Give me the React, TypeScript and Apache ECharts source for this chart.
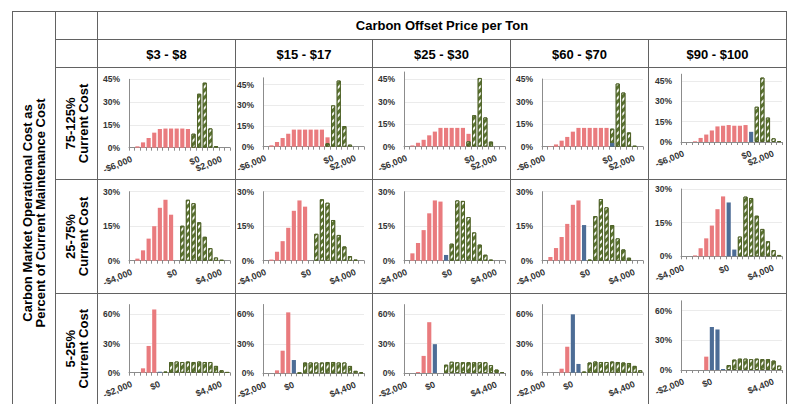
import React, { useEffect, useRef } from 'react';
import * as echarts from 'echarts';

// ---------- text ----------
const mainTitle = 'Carbon Offset Price per Ton';
const sideTitle = 'Carbon Market Operational Cost as\nPercent of Current Maintenance Cost';
const priceColumns = ['$3 - $8', '$15 - $17', '$25 - $30', '$60 - $70', '$90 - $100'];
const costRows = ['75-125%\nCurrent Cost', '25-75%\nCurrent Cost', '5-25%\nCurrent Cost'];

// ---------- bins (net cost, $) ----------
const binsRow1 = [-6000, -5500, -5000, -4500, -4000, -3500, -3000, -2500, -2000, -1500, -1000, -500, 0, 500, 1000, 1500, 2000, 2500];
const binsRow2 = [-4000, -3500, -3000, -2500, -2000, -1500, -1000, -500, 0, 500, 1000, 1500, 2000, 2500, 3000, 3500, 4000, 4500];
const binsRow3 = [-2000, -1600, -1200, -800, -400, 0, 400, 800, 1200, 1600, 2000, 2400, 2800, 3200, 3600, 4000, 4400, 4800];
const tickLabelsRow1 = [-6000, 0, 2000];
const tickLabelsRow2 = [-4000, 0, 4000];
const tickLabelsRow3 = [-2000, 0, 4400];
const yTicksRow1 = [0, 15, 30, 45];
const yTicksRow2 = [0, 15, 30];
const yTicksRow3 = [0, 30, 60];

// ---------- series values (% of runs) ----------
// Row 1: 75-125% current cost
const r1c1Red = [0, 0.9, 3.5, 6.4, 9.9, 12.3, 12.6, 12.6, 12.6, 12.6, 12.3, 4, 0, 0, 0, 0, 0, 0];
const r1c1Blue = [0, 0, 0, 0, 0, 0, 0, 0, 0, 0, 0, 0, 0, 0, 0, 0, 0, 0];
const r1c1Green = [0, 0, 0, 0, 0, 0, 0, 0, 0, 0, 0, 9.2, 35.5, 42.8, 12.7, 1.1, 0, 0];
const r1c2Red = [0, 1, 3.4, 6.3, 9.4, 12.4, 12.4, 12.4, 12.4, 12.4, 12.4, 6.8, 0, 0, 0, 0, 0, 0];
const r1c2Blue = [0, 0, 0, 0, 0, 0, 0, 0, 0, 0, 0, 0, 0, 0, 0, 0, 0, 0];
const r1c2Green = [0, 0, 0, 0, 0, 0, 0, 0, 0, 0, 0, 2.5, 30, 48, 15, 1.5, 0, 0];
const r1c3Red = [0, 0.7, 2.5, 4.5, 7.5, 10, 12.5, 12.5, 12.5, 12.5, 12.5, 8.5, 0, 0, 0, 0, 0, 0];
const r1c3Blue = [0, 0, 0, 0, 0, 0, 0, 0, 0, 0, 0, 0, 0, 0, 0, 0, 0, 0];
const r1c3Green = [0, 0, 0, 0, 0, 0, 0, 0, 0, 0, 0, 3.5, 21, 46, 19.5, 3.3, 0, 0];
const r1c4Red = [0, 0.3, 1.5, 4, 6.5, 10, 12.5, 12.5, 12.5, 12.5, 12.5, 12.5, 0, 0, 0, 0, 0, 0];
const r1c4Blue = [0, 0, 0, 0, 0, 0, 0, 0, 0, 0, 0, 0, 2.5, 0, 0, 0, 0, 0];
const r1c4Green = [0, 0, 0, 0, 0, 0, 0, 0, 0, 0, 0, 0, 12, 42, 36, 9.5, 0.5, 0];
const r1c5Red = [0, 0, 0.5, 3, 5.5, 8.5, 11.5, 12, 12.5, 12, 12, 12.5, 0, 0, 0, 0, 0, 0];
const r1c5Blue = [0, 0, 0, 0, 0, 0, 0, 0, 0, 0, 0, 0, 7.5, 0, 0, 0, 0, 0];
const r1c5Green = [0, 0, 0, 0, 0, 0, 0, 0, 0, 0, 0, 0, 0, 26, 47.5, 18, 2.7, 0.7];
// Row 2: 25-75% current cost
const r2c1Red = [0, 0.9, 4.5, 9.6, 15, 23, 26.5, 20, 0, 0, 0, 0, 0, 0, 0, 0, 0, 0];
const r2c1Blue = [0, 0, 0, 0, 0, 0, 0, 0, 0, 0, 0, 0, 0, 0, 0, 0, 0, 0];
const r2c1Green = [0, 0, 0, 0, 0, 0, 0, 0, 0, 15.2, 26.5, 25, 16.7, 10.4, 5.5, 1.4, 0.3, 0];
const r2c2Red = [0, 0.5, 3.9, 8.5, 14.3, 21.7, 26.2, 23.5, 0, 0, 0, 0, 0, 0, 0, 0, 0, 0];
const r2c2Blue = [0, 0, 0, 0, 0, 0, 0, 0, 0, 0, 0, 0, 0, 0, 0, 0, 0, 0];
const r2c2Green = [0, 0, 0, 0, 0, 0, 0, 0, 0, 11.7, 26.7, 25.2, 17.7, 11.2, 6.2, 2, 0.4, 0];
const r2c3Red = [0, 3.2, 7.7, 13.3, 20.6, 26.2, 25.7, 0, 0, 0, 0, 0, 0, 0, 0, 0, 0, 0];
const r2c3Blue = [0, 0, 0, 0, 0, 0, 0, 2.5, 0, 0, 0, 0, 0, 0, 0, 0, 0, 0];
const r2c3Green = [0, 0, 0, 0, 0, 0, 0, 0, 7.4, 26.2, 26, 19, 12.3, 7, 2.6, 0.4, 0, 0];
const r2c4Red = [0, 1.6, 5.5, 10.3, 16, 24.3, 26.2, 0, 0, 0, 0, 0, 0, 0, 0, 0, 0, 0];
const r2c4Blue = [0, 0, 0, 0, 0, 0, 0, 15.5, 0, 0, 0, 0, 0, 0, 0, 0, 0, 0];
const r2c4Green = [0, 0, 0, 0, 0, 0, 0, 0, 0.4, 19.4, 26.8, 23.2, 15.5, 9.7, 4.9, 1.3, 0, 0];
const r2c5Red = [0, 0, 0.4, 3.6, 8, 13.7, 21, 26.7, 0, 0, 0, 0, 0, 0, 0, 0, 0, 0];
const r2c5Blue = [0, 0, 0, 0, 0, 0, 0, 0, 24, 3, 0, 0, 0, 0, 0, 0, 0, 0];
const r2c5Green = [0, 0, 0, 0, 0, 0, 0, 0, 0, 0, 8.8, 26.6, 26, 18.1, 12.2, 6.7, 2.8, 0.6];
// Row 3: 5-25% current cost
const r3c1Red = [0, 0, 4.5, 27.5, 65, 0, 0, 0, 0, 0, 0, 0, 0, 0, 0, 0, 0, 0];
const r3c1Blue = [0, 0, 0, 0, 0, 1, 0, 0, 0, 0, 0, 0, 0, 0, 0, 0, 0, 0];
const r3c1Green = [0, 0, 0, 0, 0, 0, 1, 11, 11.5, 11, 11.5, 11, 11.5, 11, 11, 7, 2.5, 0.5];
const r3c2Red = [0, 0, 3, 23, 62, 0, 0, 0, 0, 0, 0, 0, 0, 0, 0, 0, 0, 0];
const r3c2Blue = [0, 0, 0, 0, 0, 13.5, 0, 0, 0, 0, 0, 0, 0, 0, 0, 0, 0, 0];
const r3c2Green = [0, 0, 0, 0, 0, 0, 0.5, 11, 11, 11, 11, 11.5, 11.5, 11, 11, 7.5, 2.5, 1];
const r3c3Red = [0, 0, 1, 17.5, 52, 0, 0, 0, 0, 0, 0, 0, 0, 0, 0, 0, 0, 0];
const r3c3Blue = [0, 0, 0, 0, 0, 29.5, 0, 0, 0, 0, 0, 0, 0, 0, 0, 0, 0, 0];
const r3c3Green = [0, 0, 0, 0, 0, 0, 0, 8.5, 11.5, 11, 11, 11, 11, 11, 11, 8, 3.5, 1];
const r3c4Red = [0, 0, 0, 4.1, 26.7, 0, 0, 0, 0, 0, 0, 0, 0, 0, 0, 0, 0, 0];
const r3c4Blue = [0, 0, 0, 0, 0, 60, 9, 0, 0, 0, 0, 0, 0, 0, 0, 0, 0, 0];
const r3c4Green = [0, 0, 0, 0, 0, 0, 0, 1, 10.5, 11.5, 11, 11, 11.5, 11, 10.5, 10, 7, 2.5];
const r3c5Red = [0, 0, 0, 0, 13.5, 0, 0, 0, 0, 0, 0, 0, 0, 0, 0, 0, 0, 0];
const r3c5Blue = [0, 0, 0, 0, 0, 43.5, 41, 1, 0, 0, 0, 0, 0, 0, 0, 0, 0, 0];
const r3c5Green = [0, 0, 0, 0, 0, 0, 0, 0, 5, 10.5, 11.5, 11.5, 11, 11.5, 11, 11, 9.5, 4.5];

const cellData = [
  [[r1c1Red, r1c1Blue, r1c1Green], [r1c2Red, r1c2Blue, r1c2Green], [r1c3Red, r1c3Blue, r1c3Green], [r1c4Red, r1c4Blue, r1c4Green], [r1c5Red, r1c5Blue, r1c5Green]],
  [[r2c1Red, r2c1Blue, r2c1Green], [r2c2Red, r2c2Blue, r2c2Green], [r2c3Red, r2c3Blue, r2c3Green], [r2c4Red, r2c4Blue, r2c4Green], [r2c5Red, r2c5Blue, r2c5Green]],
  [[r3c1Red, r3c1Blue, r3c1Green], [r3c2Red, r3c2Blue, r3c2Green], [r3c3Red, r3c3Blue, r3c3Green], [r3c4Red, r3c4Blue, r3c4Green], [r3c5Red, r3c5Blue, r3c5Green]],
];
const rowBins = [binsRow1, binsRow2, binsRow3];
const rowTickLabels = [tickLabelsRow1, tickLabelsRow2, tickLabelsRow3];
const rowYTicks = [yTicksRow1, yTicksRow2, yTicksRow3];
const cellYMax = [
  [45, 50, 50, 45, 50],
  [30, 30, 30, 30, 30],
  [70, 70, 70, 70, 70],
];

// ---------- layout ----------
const colLines = [97.5, 235.5, 372.5, 510.5, 648.5, 786.5];
const rowLines = [67.5, 179.5, 293.5, 404];
const axisLeft = [129, 263, 404, 542, 681];
const plotWidth = 101;
const cellTop = [
  [79.3, 77.8, 72, 79, 74.2],
  [191.7, 191.7, 191.7, 191.7, 189],
  [304.6, 304.5, 304.6, 304.6, 300.8],
];
const cellBottom = [
  [147.7, 146.7, 146.5, 146.7, 142],
  [260.7, 260.7, 260.7, 260.7, 256.3],
  [372.7, 373.3, 373, 372.7, 370],
];

const RED = '#e97b7e';
const BLUE = '#4d6d96';
const GREEN = '#4f6228';
const AXIS = '#8c8c8c';
const LINE = '#626262';
const HEAD_FONT = 'bold 13px "Liberation Sans", Arial, sans-serif';
const TICK_FONT = '"Liberation Sans", Arial, sans-serif';

const fmtMoney = (v: number) => (v < 0 ? '-' : '') + '$' + Math.abs(v).toLocaleString('en-US');

function buildOption() {
  const grid: any[] = [];
  const xAxis: any[] = [];
  const yAxis: any[] = [];
  const series: any[] = [];

  for (let r = 0; r < 3; r++) {
    for (let c = 0; c < 5; c++) {
      const k = r * 5 + c;
      const bins = rowBins[r];
      const labelIdx = rowTickLabels[r].map((v) => bins.indexOf(v));
      const yTicks = rowYTicks[r];
      const step = yTicks[1] - yTicks[0];
      const labelTop = yTicks[yTicks.length - 1];
      const yMax = cellYMax[r][c];
      grid.push({
        left: axisLeft[c],
        top: cellTop[r][c],
        width: plotWidth,
        height: cellBottom[r][c] - cellTop[r][c],
        containLabel: false,
      });
      xAxis.push({
        type: 'category',
        gridIndex: k,
        data: bins.map((b) => fmtMoney(b)),
        boundaryGap: true,
        axisLine: { lineStyle: { color: AXIS, width: 1 } },
        axisTick: { show: true, interval: 0, length: 3, lineStyle: { color: AXIS } },
        axisLabel: {
          interval: 0,
          formatter: (value: string, index: number) => (labelIdx.includes(index) ? value : ''),
          hideOverlap: false,
          rotate: 22,
          margin: 11,
          fontSize: 9,
          fontWeight: 'bold',
          color: '#333',
          fontFamily: TICK_FONT,
        },
        splitLine: { show: false },
      });
      yAxis.push({
        type: 'value',
        gridIndex: k,
        min: 0,
        max: yMax,
        interval: step,
        axisLine: { show: true, lineStyle: { color: AXIS, width: 1 } },
        axisTick: { show: false },
        axisLabel: {
          formatter: (v: number) => (v <= labelTop ? v + '%' : ''),
          margin: 9,
          fontSize: 8.5,
          fontWeight: 'bold',
          color: '#333',
          fontFamily: TICK_FONT,
        },
        splitLine: {
          show: true,
          showMinLine: false,
          showMaxLine: yMax === labelTop,
          lineStyle: { color: '#ebebeb', width: 1 },
        },
      });
      const [red, blue, green] = cellData[r][c];
      const clean = (arr: number[]) => arr.map((v) => (v > 0 ? v : null));
      series.push({
        type: 'bar',
        xAxisIndex: k,
        yAxisIndex: k,
        data: clean(red),
        barWidth: '74%',
        barGap: '-100%',
        itemStyle: { color: RED },
        silent: true,
      });
      series.push({
        type: 'bar',
        xAxisIndex: k,
        yAxisIndex: k,
        data: clean(green),
        barWidth: '74%',
        barGap: '-100%',
        itemStyle: {
          color: '#5b7530',
          borderColor: GREEN,
          borderWidth: 1,
          decal: {
            symbol: 'rect',
            symbolSize: 1,
            color: 'rgba(255,255,255,0.95)',
            dashArrayX: [1, 0],
            dashArrayY: [1.6, 2.2],
            rotation: -Math.PI / 4,
          },
        },
        silent: true,
      });
      series.push({
        type: 'bar',
        xAxisIndex: k,
        yAxisIndex: k,
        data: clean(blue),
        barWidth: '74%',
        barGap: '-100%',
        itemStyle: { color: BLUE },
        silent: true,
      });
    }
  }

  const elements: any[] = [];
  const hline = (x1: number, x2: number, y: number) =>
    elements.push({ type: 'line', silent: true, shape: { x1, y1: y, x2, y2: y }, style: { stroke: LINE, lineWidth: 1 } });
  const vline = (x: number, y1: number, y2: number) =>
    elements.push({ type: 'line', silent: true, shape: { x1: x, y1, x2: x, y2 }, style: { stroke: LINE, lineWidth: 1 } });

  hline(12, 787, 11.5);
  vline(12.5, 11, 404);
  vline(55.5, 11, 404);
  vline(97.5, 11, 404);
  vline(786.5, 11, 404);
  hline(55, 787, 39.5);
  for (const y of rowLines.slice(0, 3)) hline(55, 787, y);
  for (const x of colLines.slice(1, 5)) vline(x, 39.5, 404);

  elements.push({
    type: 'text',
    x: (colLines[0] + colLines[5]) / 2,
    y: 25.5,
    silent: true,
    style: { text: mainTitle, font: HEAD_FONT, fill: '#000', textAlign: 'center', textVerticalAlign: 'middle' },
  });
  priceColumns.forEach((t, c) => {
    elements.push({
      type: 'text',
      x: (colLines[c] + colLines[c + 1]) / 2,
      y: 54,
      silent: true,
      style: { text: t, font: HEAD_FONT, fill: '#000', textAlign: 'center', textVerticalAlign: 'middle' },
    });
  });
  costRows.forEach((t, r) => {
    elements.push({
      type: 'text',
      x: 76.5,
      y: (rowLines[r] + rowLines[r + 1]) / 2,
      rotation: Math.PI / 2,
      silent: true,
      style: { text: t, font: HEAD_FONT, fill: '#000', textAlign: 'center', textVerticalAlign: 'middle', lineHeight: 13 },
    });
  });
  elements.push({
    type: 'text',
    x: 33.5,
    y: 213,
    rotation: Math.PI / 2,
    silent: true,
    style: { text: sideTitle, font: HEAD_FONT, fill: '#000', textAlign: 'center', textVerticalAlign: 'middle', lineHeight: 13 },
  });

  return {
    animation: false,
    backgroundColor: '#ffffff',
    grid,
    xAxis,
    yAxis,
    series,
    graphic: { elements },
  };
}

export default function App() {
  const ref = useRef<HTMLDivElement>(null);
  useEffect(() => {
    if (!ref.current) return;
    const chart = echarts.init(ref.current, null, { renderer: 'svg' });
    chart.setOption(buildOption() as any);
    return () => chart.dispose();
  }, []);
  return (
    <div
      ref={ref}
      style={{ position: 'fixed', left: 0, top: 0, width: 791, height: 404, background: '#fff' }}
    />
  );
}
